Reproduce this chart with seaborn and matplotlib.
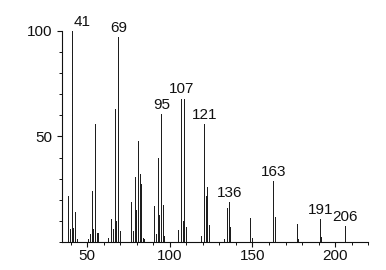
import matplotlib
matplotlib.use("Agg")
import matplotlib.pyplot as plt
import seaborn as sns
import pandas as pd
from matplotlib.ticker import MultipleLocator

# m/z values and relative intensities
mz = [39, 40, 41, 42, 43, 44,
      51, 52, 53, 54, 55, 56, 57,
      63, 65, 66, 67, 68, 69, 70,
      77, 78, 79, 80, 81, 82, 83, 84, 85,
      91, 92, 93, 94, 95, 96, 97,
      105, 107, 108, 109, 110,
      119, 121, 122, 123, 124,
      133, 135, 136, 137,
      149, 150,
      163, 164,
      177, 178,
      191, 192,
      206]
intensity = [22, 6, 100, 6.5, 14, 1.5,
             1.5, 4, 24, 6, 56, 4.5, 4.5,
             2, 11, 6, 63, 10, 97, 5,
             19, 5, 31, 15, 48, 32, 27.5, 2, 1.5,
             17, 4, 40, 13, 60.5, 17.5, 3,
             5.5, 68, 10, 68, 7,
             3, 56, 22, 26, 8,
             1.5, 16, 19, 7,
             11.5, 2,
             29, 12,
             8.5, 1.5,
             11, 2.5,
             7.5]
peak_labels = [41, 69, 95, 107, 121, 136, 163, 191, 206]
x_ticks = [50, 100, 150, 200]
y_ticks = [50, 100]

df = pd.DataFrame({"mz": mz, "intensity": intensity})

sns.set_style("ticks")
plt.rcParams['font.family'] = ['Liberation Sans', 'DejaVu Sans']

fig = plt.figure(figsize=(3.86, 2.70), dpi=100)
ax = fig.add_axes([0.1614, 0.1037, 0.7926, 0.7815])

sns.barplot(data=df, x="mz", y="intensity", native_scale=True, width=0.6,
            color="#1e1e1e", linewidth=0, errorbar=None, ax=ax)

ax.set_xlim(35, 220)
ax.set_ylim(0, 100)
ax.set_xticks(x_ticks)
ax.set_yticks(y_ticks)
ax.xaxis.set_minor_locator(MultipleLocator(10))
ax.yaxis.set_minor_locator(MultipleLocator(10))
ax.set_xlabel("")
ax.set_ylabel("")

for s in ["top", "right"]:
    ax.spines[s].set_visible(False)
for s in ["left", "bottom"]:
    ax.spines[s].set_linewidth(0.8)
    ax.spines[s].set_color("#111111")

ax.tick_params(axis="both", which="major", direction="out", length=3.5,
               width=0.8, labelsize=11, colors="#111111")
ax.tick_params(axis="x", which="major", pad=1.5)
ax.tick_params(axis="y", which="major", pad=4)
ax.tick_params(axis="both", which="minor", direction="out", length=2,
               width=0.7, colors="#111111")

lookup = dict(zip(mz, intensity))
for p in peak_labels:
    dx = 7 if p == 41 else 0
    ax.annotate(str(p), xy=(p, lookup[p]), xytext=(dx, 1.5),
                textcoords="offset points", ha="center", va="bottom",
                fontsize=11, color="#111111", annotation_clip=False)

fig.savefig("out.png", dpi=100, facecolor="white")
